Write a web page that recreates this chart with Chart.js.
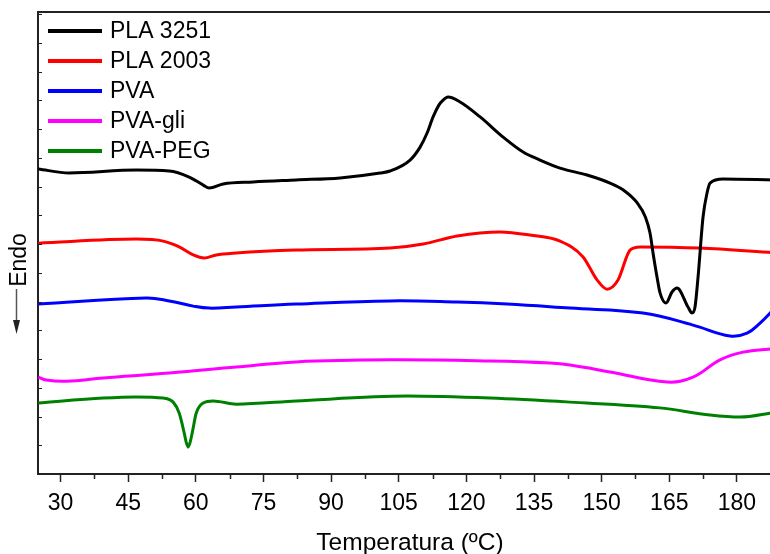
<!DOCTYPE html>
<html>
<head>
<meta charset="utf-8">
<title>DSC</title>
<script src="https://cdn.jsdelivr.net/npm/chart.js@4.4.1/dist/chart.umd.min.js"></script>
<style>
  html, body { margin: 0; padding: 0; background: #fff; overflow: hidden; }
  #wrap { width: 784px; height: 554px; }
</style>
</head>
<body>
<div id="wrap"><canvas id="c" width="784" height="554"></canvas></div>
<script>
// Temperature (ºC) / heat flow (a.u., endo down) for each sample
const pla3251T = [25.06, 31.93, 46.78, 54.10, 58.53, 61.65, 62.98, 66.07, 72.72, 82.25, 92.00, 100.87, 103.09, 107.52, 109.74, 111.29, 112.62, 113.90, 114.62, 115.95, 118.61, 123.05, 128.15, 132.58, 136.35, 140.78, 146.76, 151.86, 154.80, 157.90, 159.70, 160.73, 161.40, 162.28, 162.95, 164.28, 165.60, 166.72, 169.15, 170.04, 170.71, 171.38, 172.49, 173.37, 174.04, 176.93, 188.0];
const pla3251Y = [10.61, 10.47, 10.57, 10.54, 10.33, 10.05, 9.95, 10.09, 10.16, 10.23, 10.30, 10.47, 10.54, 10.92, 11.37, 11.86, 12.42, 12.83, 12.97, 13.11, 12.94, 12.42, 11.72, 11.20, 10.92, 10.64, 10.40, 10.12, 9.88, 9.43, 8.94, 8.38, 7.69, 6.85, 6.30, 5.95, 6.33, 6.47, 5.81, 5.60, 5.81, 6.85, 8.94, 9.77, 10.12, 10.26, 10.23];

const pla2003T = [25.06, 46.78, 52.77, 56.31, 59.43, 61.87, 64.53, 68.95, 82.25, 103.09, 110.41, 117.95, 127.48, 134.13, 140.78, 145.88, 148.98, 151.20, 153.64, 156.30, 158.51, 171.82, 188.0];
const pla2003Y = [8.03, 8.17, 8.10, 7.90, 7.62, 7.51, 7.62, 7.69, 7.79, 7.86, 8.00, 8.28, 8.42, 8.31, 8.10, 7.55, 6.75, 6.43, 6.75, 7.79, 7.90, 7.86, 7.70];

const pvaT = [25.06, 49.00, 54.10, 59.43, 62.98, 68.95, 82.25, 103.09, 117.95, 129.03, 143.00, 159.18, 170.27, 178.48, 182.26, 185.14, 188.0];
const pvaY = [5.91, 6.12, 6.02, 5.84, 5.77, 5.81, 5.91, 6.02, 5.98, 5.91, 5.77, 5.60, 5.18, 4.80, 4.90, 5.25, 5.70];

const pvaGliT = [25.06, 26.83, 31.26, 39.47, 54.10, 68.95, 82.25, 103.09, 125.26, 138.56, 143.00, 151.86, 164.50, 170.27, 176.26, 181.37, 188.0];
const pvaGliY = [3.37, 3.27, 3.23, 3.34, 3.51, 3.72, 3.90, 3.97, 3.93, 3.86, 3.79, 3.55, 3.20, 3.37, 3.97, 4.24, 4.36];

const pvaPegT = [25.06, 39.47, 46.78, 52.77, 54.98, 56.31, 57.42, 57.86, 58.30, 58.75, 59.20, 60.10, 61.65, 63.87, 68.95, 82.25, 106.86, 125.26, 143.00, 162.95, 174.04, 180.70, 188.0];
const pvaPegY = [2.47, 2.64, 2.68, 2.64, 2.50, 2.12, 1.43, 1.11, 0.94, 1.11, 1.43, 2.12, 2.47, 2.54, 2.43, 2.54, 2.71, 2.64, 2.50, 2.30, 2.05, 1.98, 2.13];

const seriesNames = ['PLA 3251', 'PLA 2003', 'PVA', 'PVA-gli', 'PVA-PEG'];
const seriesColors = ['#000000', '#ff0000', '#0000ff', '#ff00ff', '#008000'];
// sharp peaks keep monotone curves; broad baselines use plain spline smoothing
const seriesCurve = ['monotone', 'monotone', 'default', 'default', 'monotone'];
const xTickValues = [30, 37.5, 45, 52.5, 60, 67.5, 75, 82.5, 90, 97.5, 105, 112.5, 120, 127.5, 135, 142.5, 150, 157.5, 165, 172.5, 180, 187.5];

const FONT = '"Liberation Sans", Arial, sans-serif';
const AXIS_COLOR = '#222';

function toPoints(xs, ys) { return xs.map((x, i) => ({ x: x, y: ys[i] })); }

const allSeries = [
  [pla3251T, pla3251Y], [pla2003T, pla2003Y], [pvaT, pvaY], [pvaGliT, pvaGliY], [pvaPegT, pvaPegY]
];

const datasets = allSeries.map((s, i) => ({
  label: seriesNames[i],
  data: toPoints(s[0], s[1]),
  borderColor: seriesColors[i],
  backgroundColor: seriesColors[i],
  borderWidth: 3,
  pointRadius: 0,
  fill: false,
  tension: 0.4,
  cubicInterpolationMode: seriesCurve[i]
}));

// Frame top line, inward y ticks, minor x ticks, legend and the "Endo" arrow
const decorations = {
  id: 'decorations',
  afterDraw(chart) {
    const ctx = chart.ctx;
    const a = chart.chartArea;
    const xs = chart.scales.x, ys = chart.scales.y;
    ctx.save();
    ctx.strokeStyle = AXIS_COLOR;
    ctx.lineWidth = 2;
    ctx.beginPath();
    ctx.moveTo(a.left - 1, a.top);
    ctx.lineTo(a.right + 20, a.top);
    ctx.stroke();

    ctx.lineWidth = 1;
    for (let k = 1; k <= 16; k++) {
      const py = Math.round(ys.getPixelForValue(k)) + 0.5;
      ctx.beginPath();
      ctx.moveTo(a.left, py);
      ctx.lineTo(a.left + 4, py);
      ctx.stroke();
    }
    ctx.lineWidth = 1.5;
    xTickValues.forEach(v => {
      if (v % 15 !== 0) {
        const px = Math.round(xs.getPixelForValue(v)) + 0.5;
        ctx.beginPath();
        ctx.moveTo(px, a.bottom);
        ctx.lineTo(px, a.bottom + 5);
        ctx.stroke();
      }
    });

    // legend
    ctx.font = '23px ' + FONT;
    ctx.textBaseline = 'middle';
    ctx.textAlign = 'left';
    chart.data.datasets.forEach((d, i) => {
      const cy = 31 + i * 30;
      ctx.strokeStyle = d.borderColor;
      ctx.lineWidth = 4;
      ctx.beginPath();
      ctx.moveTo(48, cy);
      ctx.lineTo(102, cy);
      ctx.stroke();
      ctx.fillStyle = '#000';
      ctx.fillText(d.label, 110, cy + 1);
    });

    // y axis label with arrow
    ctx.save();
    ctx.translate(20, 260);
    ctx.rotate(-Math.PI / 2);
    ctx.fillStyle = '#000';
    ctx.textAlign = 'center';
    ctx.textBaseline = 'middle';
    ctx.font = '23px ' + FONT;
    ctx.fillText('Endo', 0, 0);
    ctx.restore();
    ctx.strokeStyle = '#555';
    ctx.fillStyle = '#222';
    ctx.lineWidth = 1.5;
    ctx.beginPath();
    ctx.moveTo(16.5, 289);
    ctx.lineTo(16.5, 324);
    ctx.stroke();
    ctx.beginPath();
    ctx.moveTo(13, 320);
    ctx.lineTo(20, 320);
    ctx.lineTo(16.5, 334);
    ctx.closePath();
    ctx.fill();
    ctx.restore();
  }
};

new Chart(document.getElementById('c'), {
  type: 'line',
  data: { datasets: datasets },
  options: {
    responsive: false,
    animation: false,
    devicePixelRatio: 1,
    layout: { padding: { top: 12, right: 2, left: 0, bottom: 0 } },
    plugins: { legend: { display: false }, tooltip: { enabled: false } },
    scales: {
      x: {
        type: 'linear',
        min: 25,
        max: 190,
        afterFit(s) { s.height = 80; },
        afterBuildTicks(s) { s.ticks = xTickValues.map(v => ({ value: v })); },
        ticks: {
          autoSkip: false,
          maxRotation: 0,
          color: '#000',
          padding: 8,
          font: { family: FONT, size: 23 },
          callback: v => (v % 15 === 0 ? String(v) : '')
        },
        grid: {
          drawOnChartArea: false,
          drawTicks: true,
          tickLength: 8,
          tickWidth: 1.5,
          tickColor: c => (c.tick && c.tick.value % 15 === 0 ? AXIS_COLOR : 'rgba(0,0,0,0)')
        },
        border: { display: true, color: AXIS_COLOR, width: 2 },
        title: {
          display: true,
          text: 'Temperatura (ºC)',
          color: '#000',
          font: { family: FONT, size: 24.5 },
          padding: { top: 0, bottom: -4 }
        }
      },
      y: {
        type: 'linear',
        min: 0,
        max: 16.07,
        afterFit(s) { s.width = 38; },
        ticks: { display: false },
        grid: { display: false },
        border: { display: true, color: AXIS_COLOR, width: 2 }
      }
    }
  },
  plugins: [decorations]
});
</script>
</body>
</html>
